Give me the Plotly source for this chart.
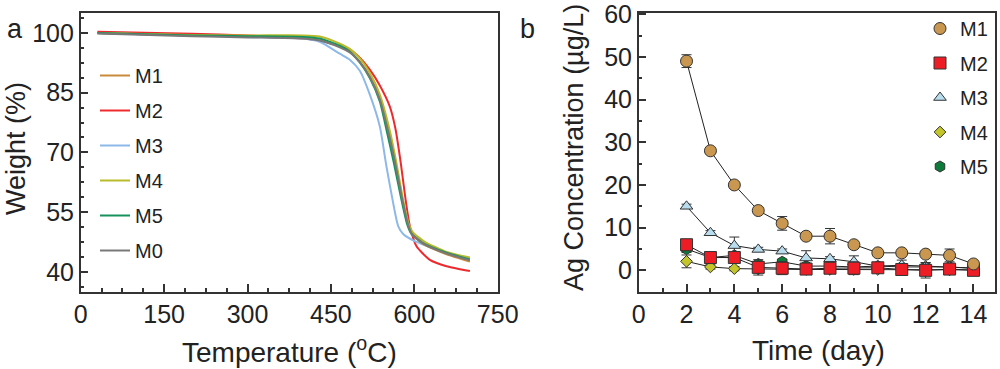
import plotly.graph_objects as go

FONT = "Arial, Liberation Sans, Helvetica, sans-serif"
TXT = "#222222"
FRAME = "#333333"

# ---------------- Panel a : TGA ----------------
names_a = ["M1", "M2", "M3", "M4", "M5", "M0"]
colors_a = {"M1": "#C98A3C", "M2": "#EE2A2E", "M3": "#8DB9E8",
            "M4": "#B9BB2A", "M5": "#16935C", "M0": "#787878"}

t_M1 = [30, 200, 300, 400, 430, 466, 484, 502, 520, 538, 553, 565, 579, 589, 595, 616, 658, 700]
w_M1 = [100.0, 99.4, 99.1, 98.8, 98.3, 96.6, 95.3, 92.8, 89.1, 83.5, 75.5, 68.0, 58.0, 51.8, 49.6, 47.0, 44.4, 42.6]

t_M2 = [30, 200, 300, 400, 430, 466, 484, 502, 520, 538, 556, 566, 576, 584, 592, 604, 628, 658, 700]
w_M2 = [100.3, 99.8, 99.4, 98.6, 98.2, 96.6, 95.8, 93.8, 90.8, 86.8, 81.5, 76.0, 67.0, 58.5, 51.5, 46.4, 43.0, 41.4, 40.2]

t_M3 = [30, 200, 300, 400, 430, 466, 484, 502, 520, 538, 550, 561, 571, 580, 598, 628, 660, 700]
w_M3 = [100.0, 99.4, 99.0, 98.6, 97.8, 94.8, 93.3, 90.5, 84.5, 76.5, 66.4, 58.0, 51.5, 49.5, 47.9, 46.2, 44.6, 43.3]

t_M4 = [30, 200, 300, 400, 430, 466, 484, 502, 520, 538, 555, 567, 580, 590, 597, 618, 658, 700]
w_M4 = [100.0, 99.5, 99.4, 99.4, 99.1, 97.3, 96.0, 93.6, 90.0, 84.5, 76.0, 68.0, 58.0, 52.0, 50.0, 47.6, 45.0, 43.6]

t_M5 = [30, 200, 300, 400, 430, 466, 484, 502, 520, 538, 551, 563, 577, 587, 594, 615, 658, 700]
w_M5 = [100.0, 99.4, 99.2, 99.0, 98.6, 96.8, 95.3, 92.6, 88.7, 82.8, 75.0, 67.5, 58.0, 52.0, 49.7, 47.3, 44.8, 43.1]

t_M0 = [30, 200, 300, 400, 430, 466, 484, 502, 520, 538, 553, 565, 579, 589, 595, 616, 658, 700]
w_M0 = [99.9, 99.2, 98.9, 98.6, 98.1, 96.4, 95.1, 92.6, 88.9, 83.3, 75.3, 67.8, 57.8, 51.8, 49.6, 47.1, 44.6, 42.9]

tga = {"M1": (t_M1, w_M1), "M2": (t_M2, w_M2), "M3": (t_M3, w_M3),
       "M4": (t_M4, w_M4), "M5": (t_M5, w_M5), "M0": (t_M0, w_M0)}

# ---------------- Panel b : Ag release ----------------
days = [2, 3, 4, 5, 6, 7, 8, 9, 10, 11, 12, 13, 14]
ag_M1 = [49.0, 28.0, 20.0, 14.0, 11.0, 8.0, 8.0, 6.0, 4.1, 4.1, 3.8, 3.5, 1.5]
err_M1 = [1.5, 0.6, 0.6, 0.6, 1.6, 0.6, 1.8, 0.6, 0.6, 0.6, 0.6, 1.5, 0.5]
ag_M2 = [6.0, 3.0, 3.0, 0.7, 0.5, 0.3, 0.5, 0.5, 0.6, 0.2, 0.0, 0.3, 0.0]
err_M2 = [1.2, 0.5, 1.0, 1.8, 1.5, 0.5, 0.5, 1.5, 0.8, 0.5, 1.8, 0.5, 0.5]
ag_M3 = [15.0, 8.8, 5.8, 4.9, 4.5, 2.9, 2.7, 2.0, 1.0, 1.2, 1.0, 0.8, 0.5]
err_M3 = [0.5, 0.5, 2.0, 0.5, 0.5, 1.7, 0.5, 1.4, 0.8, 1.2, 0.8, 0.5, 0.5]
ag_M4 = [2.1, 0.8, 0.4, 0.3, 0.3, 0.2, 0.2, 0.2, 0.2, 0.1, 0.1, 0.1, 0.1]
err_M4 = [1.5, 0.5, 0.5, 0.5, 0.5, 0.5, 0.5, 0.5, 0.5, 0.5, 0.5, 0.5, 0.5]
ag_M5 = [5.0, 3.0, 3.5, 1.5, 2.0, 1.0, 1.0, 0.8, 1.0, 0.8, 0.8, 0.8, 0.5]
err_M5 = [0.8, 0.5, 0.5, 0.5, 0.5, 0.5, 0.5, 0.5, 0.5, 0.5, 0.5, 0.5, 0.5]

rel = {"M1": (ag_M1, err_M1), "M2": (ag_M2, err_M2), "M3": (ag_M3, err_M3),
       "M4": (ag_M4, err_M4), "M5": (ag_M5, err_M5)}
style_b = {"M1": ("circle", 12, "#C9974F"), "M2": ("square", 12, "#EE1C25"),
           "M3": ("triangle-up", 11, "#B8DDEF"), "M4": ("diamond", 9, "#C3C52B"),
           "M5": ("hexagon", 11, "#0E7A3A")}

fig = go.Figure()

draw_order_a = ["M2", "M3", "M1", "M4", "M5", "M0"]
for n in draw_order_a:
    t, w = tga[n]
    fig.add_trace(go.Scatter(
        x=t, y=w, mode="lines", name=n, legendgroup="a" + n,
        legendrank=names_a.index(n) + 1,
        line=dict(color=colors_a[n], width=2, shape="spline", smoothing=0.6),
        xaxis="x", yaxis="y", legend="legend"))

names_b = ["M1", "M2", "M3", "M4", "M5"]
draw_order_b = ["M4", "M5", "M3", "M2", "M1"]
# connecting lines first (no legend entry)
for n in draw_order_b:
    y, e = rel[n]
    fig.add_trace(go.Scatter(
        x=days, y=y, mode="lines", name=n, legendgroup="b" + n, showlegend=False,
        line=dict(color="#222222", width=1), hoverinfo="skip",
        xaxis="x2", yaxis="y2", legend="legend2"))
# markers with error bars on top
for n in draw_order_b:
    y, e = rel[n]
    sym, sz, col = style_b[n]
    fig.add_trace(go.Scatter(
        x=days, y=y, mode="markers", name=n, legendgroup="b" + n,
        legendrank=names_b.index(n) + 1,
        marker=dict(symbol=sym, size=sz, color=col, line=dict(color="#333333", width=1)),
        error_y=dict(type="data", array=e, visible=True, color="#333333", thickness=1, width=5),
        xaxis="x2", yaxis="y2", legend="legend2"))

ydom = [0.2095, 0.9645]
axis_common = dict(showline=True, mirror=True, linecolor=FRAME, linewidth=1.5,
                   ticks="inside", ticklen=8, tickwidth=1.5, tickcolor=FRAME,
                   showgrid=False, zeroline=False, ticklabeloverflow="allow", automargin=False,
                   tickfont=dict(family=FONT, size=25, color=TXT))

fig.update_layout(
    width=1000, height=369,
    margin=dict(l=0, r=0, t=0, b=0, autoexpand=False),
    paper_bgcolor="white", plot_bgcolor="white",
    font=dict(family=FONT, color=TXT),
    xaxis=dict(domain=[0.0807, 0.4977], anchor="y", range=[0, 750], tick0=0, dtick=150,
               minor=dict(ticks="inside", ticklen=4, dtick=37.5, tickcolor=FRAME, tickwidth=1.5),
               **axis_common),
    yaxis=dict(domain=ydom, anchor="x", range=[35, 105], tick0=40, dtick=15,
               minor=dict(ticks="inside", ticklen=4, dtick=3.75, tick0=40, tickcolor=FRAME, tickwidth=1.5),
               **axis_common),
    xaxis2=dict(domain=[0.6387, 0.995], anchor="y2", range=[0, 14.9], tick0=0, dtick=2,
                minor=dict(ticks="inside", ticklen=4, dtick=1, tickcolor=FRAME, tickwidth=1.5),
                **axis_common),
    yaxis2=dict(domain=ydom, anchor="x2", range=[-5, 60.25], tick0=0, dtick=10,
                minor=dict(ticks="inside", ticklen=4, dtick=5, tick0=0, tickcolor=FRAME, tickwidth=1.5),
                **axis_common),
    legend=dict(x=0.095, y=1 - 56 / 369, xanchor="left", yanchor="top",
                font=dict(family=FONT, size=20, color=TXT), bgcolor="rgba(0,0,0,0)",
                tracegroupgap=6, traceorder="grouped"),
    legend2=dict(x=0.920, y=1 - 9 / 369, xanchor="left", yanchor="top",
                 font=dict(family=FONT, size=20, color=TXT), bgcolor="rgba(0,0,0,0)",
                 tracegroupgap=5.5, traceorder="grouped"),
    showlegend=True,
)

ann = [
    dict(text="a", x=15 / 1000, y=1 - 29 / 369, font=dict(size=27)),
    dict(text="b", x=527 / 1000, y=1 - 29 / 369, font=dict(size=27)),
    dict(text="Weight (%)", x=16 / 1000, y=1 - 149 / 369, textangle=-90, font=dict(size=27)),
    dict(text="Ag Concentration (µg/L)", x=574 / 1000, y=1 - 148 / 369, textangle=-90, font=dict(size=27)),
    dict(text="Temperature (<sup>o</sup>C)", x=289 / 1000, y=1 - 350 / 369, font=dict(size=28)),
    dict(text="Time (day)", x=818 / 1000, y=1 - 350 / 369, font=dict(size=28)),
]
for a in ann:
    a.update(xref="paper", yref="paper", showarrow=False, xanchor="center", yanchor="middle")
    a["font"].update(family=FONT, color=TXT)
fig.update_layout(annotations=ann)

fig.write_html("out.html", config={"displayModeBar": False},
               post_script="document.body.style.margin='0';document.body.style.overflow='hidden';")
